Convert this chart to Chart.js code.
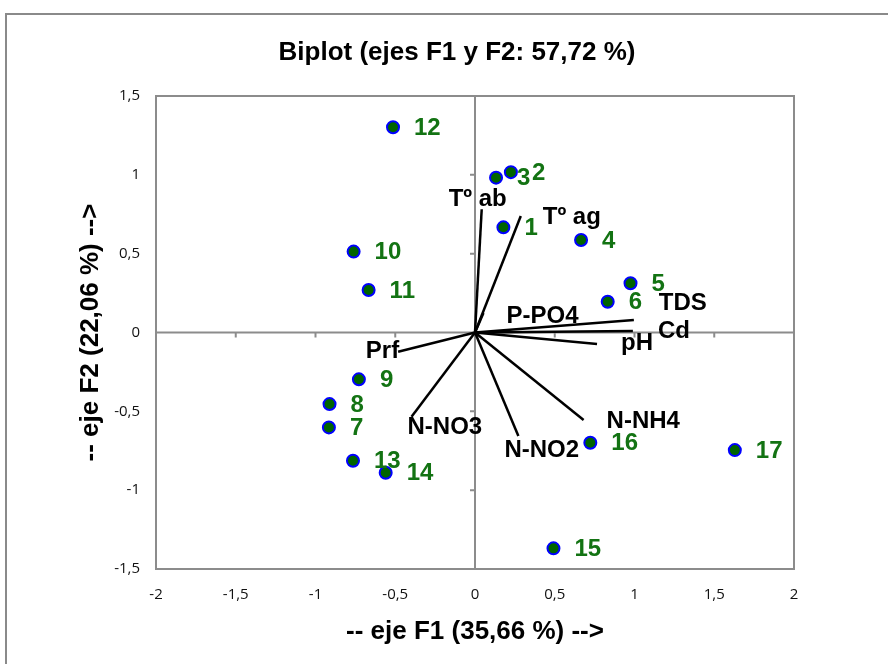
<!DOCTYPE html>
<html>
<head>
<meta charset="utf-8">
<script src="https://cdn.jsdelivr.net/npm/chart.js@4"></script>
<style>
    html, body { margin: 0; padding: 0; background: #fff; }
    #marco {
        position: absolute; left: 5px; top: 13px; width: 900px; height: 700px;
        border-top: 2px solid #8a8a8a; border-left: 2px solid #8a8a8a;
    }
    #contenedor { position: absolute; left: 0; top: 0; width: 888px; height: 664px; }
</style>
</head>
<body>
<div id="marco"></div>
<div id="contenedor"><canvas id="biplot" width="888" height="664"></canvas></div>
<script>
// Observaciones (puntos)
const obsNames = ['1', '2', '3', '4', '5', '6', '7', '8', '9', '10', '11', '12', '13', '14', '15', '16', '17'];
const obsF1 = [0.178, 0.225, 0.132, 0.665, 0.975, 0.832, -0.916, -0.912, -0.728, -0.761, -0.667, -0.514, -0.765, -0.56, 0.492, 0.723, 1.629];
const obsF2 = [0.667, 1.017, 0.982, 0.587, 0.312, 0.195, -0.602, -0.454, -0.297, 0.513, 0.27, 1.302, -0.813, -0.89, -1.369, -0.699, -0.746];

// Variables (vectores)
const varNames = ['Tº ab', 'Tº ag', 'P-PO4', 'TDS', 'Cd', 'pH', 'Prf', 'N-NO3', 'N-NO2', 'N-NH4'];
const varF1 = [0.042, 0.287, 0.053, 0.996, 0.99, 0.765, -0.482, -0.398, 0.272, 0.681];
const varF2 = [0.782, 0.739, 0.124, 0.079, 0.01, -0.073, -0.122, -0.534, -0.657, -0.555];

// Ticks de los ejes
const xTicks = [-2, -1.5, -1, -0.5, 0, 0.5, 1, 1.5, 2];
const yTicks = [-1.5, -1, -0.5, 0, 0.5, 1, 1.5];

const chartTitle = 'Biplot (ejes F1 y F2: 57,72 %)';

// posición de las etiquetas de los vectores (px respecto al extremo)
const varLabelPos = [
    { dx: -4, dy: -10, align: 'center' },
    { dx: 22, dy: 1, align: 'left' },
    { dx: 23, dy: 3, align: 'left' },
    { dx: 25, dy: -17, align: 'left' },
    { dx: 25, dy: 0, align: 'left' },
    { dx: 24, dy: -1, align: 'left' },
    { dx: 1, dy: 0, align: 'right' },
    { dx: -4, dy: 11, align: 'left' },
    { dx: -14, dy: 14, align: 'left' },
    { dx: 23, dy: 1, align: 'left' },
];

const fmt = (v) => String(v).replace('.', ',');

// ejes que cruzan en 0 con sus marcas, y marco del área de trazado
const ejesCero = {
    id: 'ejesCero',
    beforeDatasetsDraw(chart) {
        const { ctx, chartArea: a, scales: { x, y } } = chart;
        const x0 = x.getPixelForValue(0);
        const y0 = y.getPixelForValue(0);
        ctx.save();
        ctx.strokeStyle = '#8c8c8c';
        ctx.lineWidth = 2;
        ctx.strokeRect(a.left, a.top, a.width, a.height);
        ctx.beginPath();
        ctx.moveTo(a.left, y0); ctx.lineTo(a.right, y0);
        ctx.moveTo(x0, a.top); ctx.lineTo(x0, a.bottom);
        xTicks.forEach((v) => {
            const px = x.getPixelForValue(v);
            ctx.moveTo(px, y0); ctx.lineTo(px, y0 + 5);
        });
        yTicks.forEach((v) => {
            const py = y.getPixelForValue(v);
            ctx.moveTo(x0 - 5, py); ctx.lineTo(x0, py);
        });
        ctx.stroke();
        ctx.restore();
    },
};

// etiquetas de puntos y vectores, y título del gráfico
const etiquetas = {
    id: 'etiquetas',
    afterDatasetsDraw(chart) {
        const { ctx, scales: { x, y } } = chart;
        ctx.save();
        ctx.font = 'bold 24px "Liberation Sans", Arial, sans-serif';
        ctx.textBaseline = 'middle';
        ctx.fillStyle = '#137313';
        ctx.textAlign = 'left';
        obsNames.forEach((n, i) => {
            ctx.fillText(n, x.getPixelForValue(obsF1[i]) + 21, y.getPixelForValue(obsF2[i]) + 1);
        });
        ctx.fillStyle = '#000';
        varNames.forEach((n, i) => {
            const p = varLabelPos[i];
            ctx.textAlign = p.align;
            ctx.fillText(n, x.getPixelForValue(varF1[i]) + p.dx, y.getPixelForValue(varF2[i]) + p.dy);
        });
        // título centrado sobre el gráfico completo
        ctx.font = 'bold 26px "Liberation Sans", Arial, sans-serif';
        ctx.textAlign = 'center';
        ctx.fillText(chartTitle, 457, 53);
        ctx.restore();
    },
};

const datasets = [
    {
        label: 'Observaciones',
        data: obsF1.map((v, i) => ({ x: v, y: obsF2[i] })),
        backgroundColor: '#006400',
        borderColor: '#0000ff',
        borderWidth: 2,
        pointRadius: 6,
    },
];
varNames.forEach((n, i) => {
    datasets.push({
        label: n,
        data: [{ x: 0, y: 0 }, { x: varF1[i], y: varF2[i] }],
        showLine: true,
        borderColor: '#000',
        borderWidth: 2.5,
        pointRadius: 0,
    });
});

const tickFont = { family: '"Open Sans", sans-serif', size: 15 };
const titleFont = { family: '"Liberation Sans", Arial, sans-serif', size: 26, weight: 'bold' };

new Chart(document.getElementById('biplot').getContext('2d'), {
    type: 'scatter',
    data: { datasets: datasets },
    options: {
        responsive: false,
        animation: false,
        layout: { padding: { left: 0, right: 94, top: 96, bottom: 0 } },
        plugins: {
            legend: { display: false },
            tooltip: { enabled: false },
            title: { display: false },
        },
        scales: {
            x: {
                type: 'linear',
                min: -2,
                max: 2,
                afterBuildTicks: (s) => { s.ticks = xTicks.map((v) => ({ value: v })); },
                afterFit: (s) => { s.height = 95; },
                grid: { display: false, drawTicks: false },
                border: { display: false },
                ticks: { color: '#111', font: tickFont, padding: 17, callback: fmt, maxRotation: 0 },
                title: {
                    display: true,
                    text: '-- eje F1 (35,66 %) -->',
                    color: '#000',
                    font: titleFont,
                    padding: { top: 0, bottom: 17 },
                },
            },
            y: {
                type: 'linear',
                min: -1.5,
                max: 1.5,
                afterBuildTicks: (s) => { s.ticks = yTicks.map((v) => ({ value: v })); },
                afterFit: (s) => { s.width = 156; },
                grid: { display: false, drawTicks: false },
                border: { display: false },
                ticks: { color: '#111', font: tickFont, padding: 16, callback: fmt },
                title: {
                    display: true,
                    text: '-- eje F2 (22,06 %) -->',
                    color: '#000',
                    font: titleFont,
                    padding: { top: 75, bottom: 0 },
                },
            },
        },
    },
    plugins: [ejesCero, etiquetas],
});
</script>
</body>
</html>
